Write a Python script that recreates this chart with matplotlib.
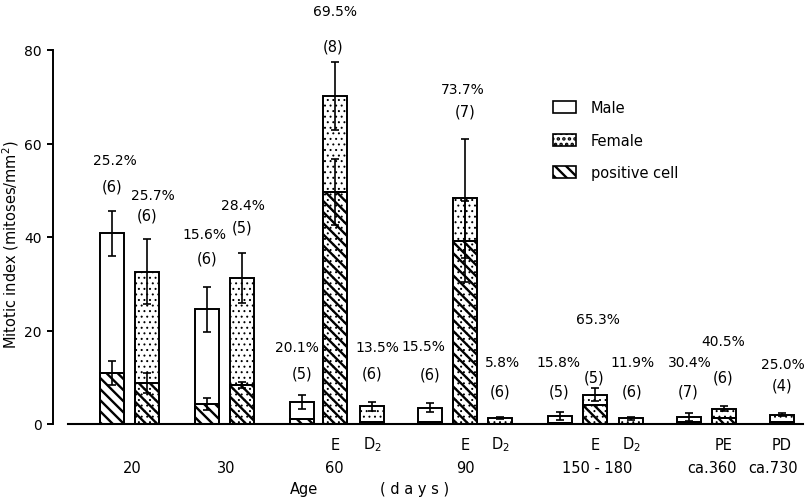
import numpy as np
import matplotlib
matplotlib.use("Agg")
import matplotlib.pyplot as plt
from matplotlib.patches import Patch

# bars, left to right: age groups and stages
groups = ["20", "30", "60", "90", "150 - 180", "ca.360", "ca.730"]
kinds = ["M", "F", "M", "F", "M", "E", "D2", "M", "E", "D2",
         "M", "E", "D2", "M", "PE", "PD"]
stage_labels = ["", "", "", "", "", "E", "D$_2$", "", "E", "D$_2$",
                "", "E", "D$_2$", "", "PE", "PD"]
totals = [40.8, 32.6, 24.5, 31.2, 4.8, 70.2, 3.8, 3.5, 48.3, 1.3,
          1.7, 6.3, 1.2, 1.5, 3.3, 2.0]
total_err = [4.8, 7.0, 4.8, 5.4, 1.5, 7.3, 1.0, 0.9, 12.7, 0.3,
             0.9, 1.3, 0.3, 0.9, 0.6, 0.3]
positive = [10.9, 8.8, 4.2, 8.4, 1.0, 49.6, 0.5, 0.5, 39.1, 0.1,
            0.3, 4.1, 0.1, 0.5, 1.3, 0.5]
positive_err = [2.6, 2.2, 1.3, 0.6, 0, 7.1, 0, 0, 8.7, 0,
                0, 0, 0, 0, 0, 0]
pct_labels = ["25.2%", "25.7%", "15.6%", "28.4%", "20.1%", "69.5%", "13.5%",
              "15.5%", "73.7%", "5.8%", "15.8%", "65.3%", "11.9%",
              "30.4%", "40.5%", "25.0%"]
n_labels = ["(6)", "(6)", "(6)", "(5)", "(5)", "(8)", "(6)", "(6)", "(7)",
            "(6)", "(5)", "(5)", "(6)", "(7)", "(6)", "(4)"]

# layout (x in pixel-like units, label heights in data units)
bar_x = [112, 147, 207, 242, 302, 335, 372, 430, 465, 500,
         560, 595, 631, 689, 724, 782]
pct_x = [115, 153, 204, 243, 297, 335, 377, 423, 463, 503,
         558, 598, 633, 690, 723, 783]
pct_y = [56.5, 49.0, 40.6, 46.8, 16.5, 88.3, 16.5, 16.7, 71.7, 13.3,
         13.3, 22.5, 13.3, 13.3, 17.8, 12.8]
n_x = [112, 147, 207, 242, 302, 333, 372, 430, 465, 500,
       559, 594, 632, 688, 723, 782]
n_y = [50.9, 44.7, 35.5, 42.1, 10.9, 80.9, 10.9, 10.7, 67.0, 7.1,
       7.1, 10.1, 7.1, 7.1, 10.1, 8.3]
group_x = [132, 226, 334, 465, 597, 712, 773]
bar_w = 24

plt.rcParams["font.family"] = ["DejaVu Sans"]

W, H = 809, 502
fig = plt.figure(figsize=(W / 100, H / 100), dpi=100)
ax = fig.add_axes([53 / W, 1 - 425 / H, (W - 53) / W, (425 - 51) / H])
ax.set_xlim(53, W)
ax.set_ylim(0, 80)

dots = "..."
lines = "\\\\\\"
DOT_LW, LINE_LW = 0.7, 1.7


def hbar(x, h, hatch, lw, z, face="white"):
    plt.rcParams["hatch.linewidth"] = lw
    ax.bar(x, h, width=bar_w, color=face, edgecolor="black",
           linewidth=1.4, hatch=hatch, zorder=z)


for i, k in enumerate(kinds):
    x = bar_x[i]
    female = k != "M"
    hbar(x, totals[i], dots if female else None, DOT_LW, 2)
    hbar(x, positive[i], dots if female else None, DOT_LW, 3)
    hbar(x, positive[i], lines, LINE_LW, 3.5, face="none")
    ax.errorbar(x, totals[i], yerr=total_err[i], color="black", lw=1.2,
                capsize=3, capthick=1.2, zorder=4)
    if positive_err[i] > 0:
        ax.errorbar(x, positive[i], yerr=positive_err[i], color="black",
                    lw=1.2, capsize=3, capthick=1.2, zorder=4)
    ax.text(pct_x[i], pct_y[i], pct_labels[i], ha="center", va="center",
            fontsize=10, clip_on=False)
    ax.text(n_x[i], n_y[i], n_labels[i], ha="center", va="center",
            fontsize=10.5, clip_on=False)
    if stage_labels[i]:
        ax.text(x, -4.3, stage_labels[i], ha="center", va="center",
                fontsize=10.5, clip_on=False)

for gx, g in zip(group_x, groups):
    ax.text(gx, -9.2, g, ha="center", va="center", fontsize=10.5, clip_on=False)
ax.text(304, -13.9, "Age", ha="center", va="center", fontsize=10.5, clip_on=False)
ax.text(415, -13.9, "( d a y s )", ha="center", va="center", fontsize=10.5,
        clip_on=False)

# baseline
ax.plot([68, 803], [0, 0], color="black", lw=1.5, clip_on=False, zorder=5)

for s in ["top", "right", "bottom"]:
    ax.spines[s].set_visible(False)
ax.spines["left"].set_linewidth(1.4)
ax.set_xticks([])
ax.set_yticks([0, 20, 40, 60, 80])
ax.tick_params(axis="y", length=4, width=1.4, labelsize=10, pad=4)
fig.text(11 / W, 1 - 245 / H, "Mitotic index (mitoses/mm$^2$)", rotation=90,
         ha="center", va="center", fontsize=10.5)

plt.rcParams["hatch.linewidth"] = DOT_LW
h_dots = Patch(facecolor="white", edgecolor="black", lw=1.2, hatch=dots)
plt.rcParams["hatch.linewidth"] = LINE_LW
h_lines = Patch(facecolor="white", edgecolor="black", lw=1.2, hatch=lines)
handles = [Patch(facecolor="white", edgecolor="black", lw=1.2), h_dots, h_lines]
ax.legend(handles, ["Male", "Female", "positive cell"], loc="upper left",
          bbox_to_anchor=(540 / W, 1 - 88 / H), bbox_transform=fig.transFigure,
          frameon=False, fontsize=10.5, handlelength=1.6, handleheight=0.9,
          labelspacing=1.2, handletextpad=1.0)

fig.savefig("out.png", dpi=100)
